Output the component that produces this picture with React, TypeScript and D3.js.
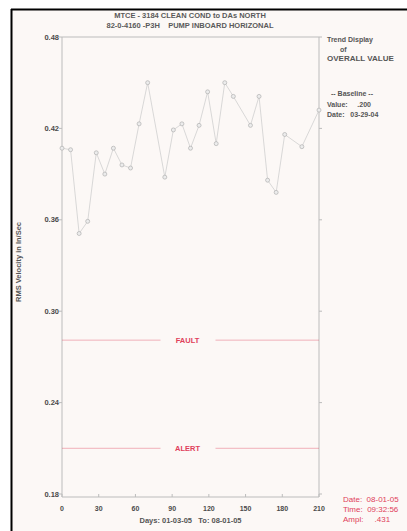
import React from "react";
import * as d3 from "d3";

const days = [0, 7, 14, 21, 28, 35, 42, 49, 56, 63, 70, 84, 91, 98, 105, 112, 119, 126, 133, 140, 154, 161, 168, 175, 182, 196, 210];
const values = [0.407, 0.406, 0.351, 0.359, 0.404, 0.390, 0.407, 0.396, 0.394, 0.423, 0.450, 0.388, 0.419, 0.423, 0.407, 0.422, 0.444, 0.410, 0.450, 0.441, 0.422, 0.441, 0.386, 0.378, 0.416, 0.408, 0.432];
const xTicks = [0, 30, 60, 90, 120, 150, 180, 210];
const yTicks = [0.18, 0.24, 0.3, 0.36, 0.42, 0.48];
const yTickLabels = ["0.18", "0.24", "0.30", "0.36", "0.42", "0.48"];
const faultLevel = 0.281;
const alertLevel = 0.21;
const titleLines = ["MTCE - 3184 CLEAN COND to DAs NORTH", "82-0-4160 -P3H    PUMP INBOARD HORIZONAL"];
const sideLines = ["Trend Display", "of", "OVERALL VALUE"];
const baselineLines = ["-- Baseline --", "Value:     .200", "Date:   03-29-04"];
const infoLines = ["Date:  08-01-05", "Time:  09:32:56", "Ampl:     .431"];

export default function App() {
  const W = 407, H = 531;
  const left = 62, right = 319, top = 37, bottom = 494;
  const x = d3.scaleLinear().domain([0, 210]).range([left, right]);
  const y = d3.scaleLinear().domain([0.18, 0.48]).range([bottom, top]);
  const pts: [number, number][] = days.map((d, i) => [d, values[i]]);
  const line = d3.line<[number, number]>().x(d => x(d[0])).y(d => y(d[1]));
  const font = "'Liberation Sans', Arial, sans-serif";
  const red = "#e0405a";
  const axisColor = "#bcbcbc";
  const txt = "#4a4a4a";
  const cx = (left + right) / 2;
  return (
    <svg width={W} height={H} style={{ position: "absolute", left: 0, top: 0 }} fontFamily={font}>
      <rect x={0} y={0} width={W} height={H} fill="#ffffff" />
      <rect x={11} y={9} width={W - 11} height={H - 9} fill="#fcf8f6" />
      <line x1={11} y1={9.5} x2={W} y2={9.5} stroke="#000" strokeWidth={2} />
      <line x1={11.5} y1={9} x2={11.5} y2={H} stroke="#000" strokeWidth={2} />
      {titleLines.map((t, i) => (
        <text key={i} x={190} y={18 + i * 10} textAnchor="middle" fontSize={7.5} fontWeight="bold" fill="#5a5a5a" style={{ whiteSpace: "pre" }}>{t}</text>
      ))}
      {/* frame */}
      <line x1={left} y1={top} x2={right} y2={top} stroke={axisColor} strokeWidth={1} />
      <line x1={left} y1={top} x2={left} y2={bottom + 3} stroke={axisColor} strokeWidth={1} />
      <line x1={right} y1={top} x2={right} y2={bottom + 3} stroke={axisColor} strokeWidth={1} />
      <line x1={left} y1={bottom + 3} x2={right} y2={bottom + 3} stroke={axisColor} strokeWidth={1} />
      {yTicks.map((v, i) => (
        <g key={i}>
          <line x1={left - 3} x2={left} y1={y(v)} y2={y(v)} stroke={axisColor} />
          <line x1={right} x2={right + 3} y1={y(v)} y2={y(v)} stroke={axisColor} />
          <text x={left - 3} y={y(v) + 2.5} textAnchor="end" fontSize={7.5} fontWeight="bold" fill={txt}>{yTickLabels[i]}</text>
        </g>
      ))}
      {xTicks.map((v, i) => (
        <g key={i}>
          <line x1={x(v)} x2={x(v)} y1={bottom} y2={bottom + 3} stroke={axisColor} />
          <text x={x(v)} y={bottom + 17} textAnchor="middle" fontSize={7} fontWeight="bold" fill={txt}>{v}</text>
        </g>
      ))}
      <text x={cx} y={523} textAnchor="middle" fontSize={7.5} fontWeight="bold" fill="#555" style={{ whiteSpace: "pre" }}>Days: 01-03-05   To: 08-01-05</text>
      <text transform={`translate(21, 262) rotate(-90)`} textAnchor="middle" fontSize={7.5} fontWeight="bold" fill="#555">RMS Velocity in In/Sec</text>
      {/* fault / alert */}
      {[{ v: faultLevel, label: "FAULT" }, { v: alertLevel, label: "ALERT" }].map((l, i) => (
        <g key={i}>
          <line x1={left} x2={cx - 30} y1={y(l.v)} y2={y(l.v)} stroke={red} strokeWidth={0.7} opacity={0.55} />
          <line x1={cx + 25} x2={right} y1={y(l.v)} y2={y(l.v)} stroke={red} strokeWidth={0.7} opacity={0.55} />
          <text x={cx - 3} y={y(l.v) + 2.5} textAnchor="middle" fontSize={7.5} fontWeight="bold" fill={red}>{l.label}</text>
        </g>
      ))}
      <path d={line(pts) || ""} fill="none" stroke="#cfcfcf" strokeWidth={0.8} />
      {pts.map((p, i) => (
        <circle key={i} cx={x(p[0])} cy={y(p[1])} r={2} fill="#ececec" stroke="#b0b0b0" strokeWidth={0.7} />
      ))}
      {sideLines.map((t, i) => (
        <text key={i} x={i === 1 ? 340 : 327} y={42 + i * 9.5} fontSize={i === 2 ? 8 : 7} fill="#555" fontWeight="bold">{t}</text>
      ))}
      {baselineLines.map((t, i) => (
        <text key={i} x={i === 0 ? 331 : 327} y={96 + i * 10.5} fontSize={7} fill="#555" fontWeight="bold" style={{ whiteSpace: "pre" }}>{t}</text>
      ))}
      {infoLines.map((t, i) => (
        <text key={i} x={343} y={502 + i * 10} fontSize={8} fill={red} style={{ whiteSpace: "pre" }}>{t}</text>
      ))}
    </svg>
  );
}
